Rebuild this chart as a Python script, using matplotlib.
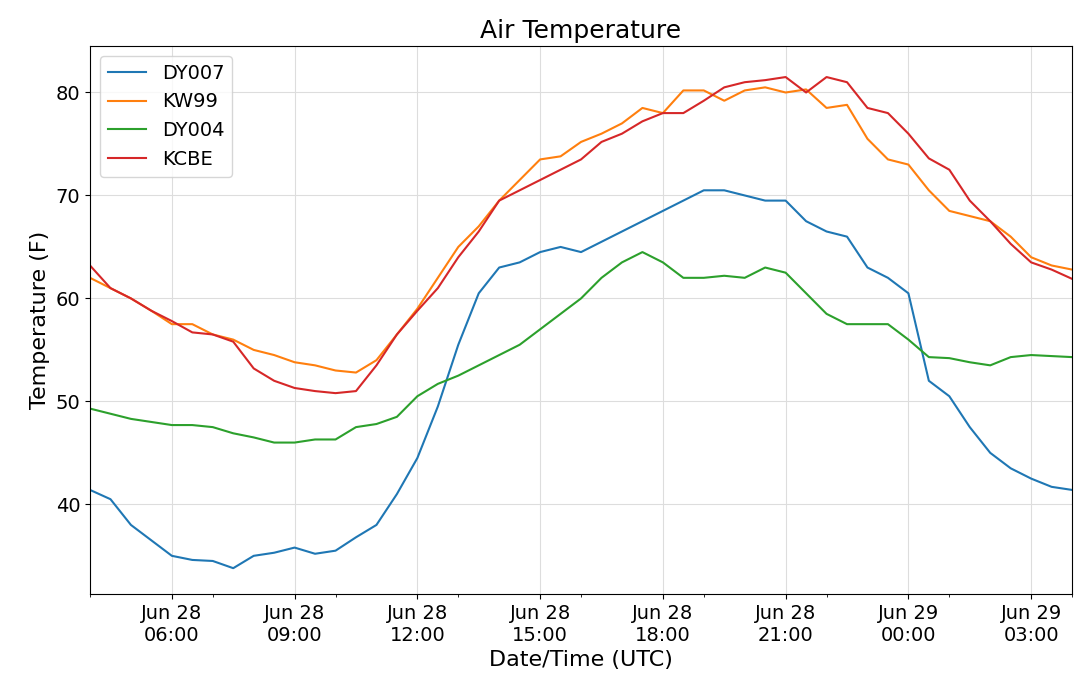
import matplotlib
matplotlib.use("Agg")
import matplotlib.pyplot as plt
import matplotlib.dates as mdates
import pandas as pd

times = pd.date_range("2018-06-28 04:00", "2018-06-29 04:00", freq="30min")

dy007 = [41.4, 40.5, 38.0, 36.5, 35.0, 34.6, 34.5, 33.8, 35.0, 35.3, 35.8, 35.2,
         35.5, 36.8, 38.0, 41.0, 44.5, 49.5, 55.5, 60.5, 63.0, 63.5, 64.5, 65.0,
         64.5, 65.5, 66.5, 67.5, 68.5, 69.5, 70.5, 70.5, 70.0, 69.5, 69.5, 67.5,
         66.5, 66.0, 63.0, 62.0, 60.5, 52.0, 50.5, 47.5, 45.0, 43.5, 42.5, 41.7, 41.4]
kw99 = [62.0, 61.0, 60.0, 58.8, 57.5, 57.5, 56.5, 56.0, 55.0, 54.5, 53.8, 53.5,
        53.0, 52.8, 54.0, 56.5, 59.0, 62.0, 65.0, 67.0, 69.5, 71.5, 73.5, 73.8,
        75.2, 76.0, 77.0, 78.5, 78.0, 80.2, 80.2, 79.2, 80.2, 80.5, 80.0, 80.3,
        78.5, 78.8, 75.5, 73.5, 73.0, 70.5, 68.5, 68.0, 67.5, 66.0, 64.0, 63.2, 62.8]
dy004 = [49.3, 48.8, 48.3, 48.0, 47.7, 47.7, 47.5, 46.9, 46.5, 46.0, 46.0, 46.3,
         46.3, 47.5, 47.8, 48.5, 50.5, 51.7, 52.5, 53.5, 54.5, 55.5, 57.0, 58.5,
         60.0, 62.0, 63.5, 64.5, 63.5, 62.0, 62.0, 62.2, 62.0, 63.0, 62.5, 60.5,
         58.5, 57.5, 57.5, 57.5, 56.0, 54.3, 54.2, 53.8, 53.5, 54.3, 54.5, 54.4, 54.3]
kcbe = [63.2, 61.0, 60.0, 58.8, 57.8, 56.7, 56.5, 55.8, 53.2, 52.0, 51.3, 51.0,
        50.8, 51.0, 53.5, 56.5, 58.8, 61.0, 64.0, 66.5, 69.5, 70.5, 71.5, 72.5,
        73.5, 75.2, 76.0, 77.2, 78.0, 78.0, 79.2, 80.5, 81.0, 81.2, 81.5, 80.0,
        81.5, 81.0, 78.5, 78.0, 76.0, 73.6, 72.5, 69.5, 67.5, 65.3, 63.5, 62.8, 61.9]

fig = plt.figure(figsize=(10.78, 6.89), dpi=100)
ax = fig.add_axes([0.0835, 0.138, 0.911, 0.795])
ax.plot(times, dy007, color="#1f77b4", label="DY007")
ax.plot(times, kw99, color="#ff7f0e", label="KW99")
ax.plot(times, dy004, color="#2ca02c", label="DY004")
ax.plot(times, kcbe, color="#d62728", label="KCBE")

ax.set_xlim(times[0], times[-1])
ax.set_ylim(31.3, 84.5)
ax.xaxis.set_major_locator(mdates.HourLocator(byhour=[0, 3, 6, 9, 12, 15, 18, 21]))
ax.xaxis.set_minor_locator(mdates.MinuteLocator(byminute=[30], interval=1))
ax.xaxis.set_minor_locator(mdates.HourLocator(byhour=[1, 4, 7, 10, 13, 16, 19, 22], interval=1))
ax.xaxis.set_major_formatter(mdates.DateFormatter("%b %d\n%H:%M"))
ax.tick_params(labelsize=14)
ax.grid(True, which="major", color="#dddddd", linewidth=0.8)
ax.set_xlabel("Date/Time (UTC)", fontsize=16)
ax.set_ylabel("Temperature (F)", fontsize=16)
ax.set_title("Air Temperature", fontsize=18)
ax.legend(loc="upper left", fontsize=14)
fig.savefig("out.png", dpi=100)
